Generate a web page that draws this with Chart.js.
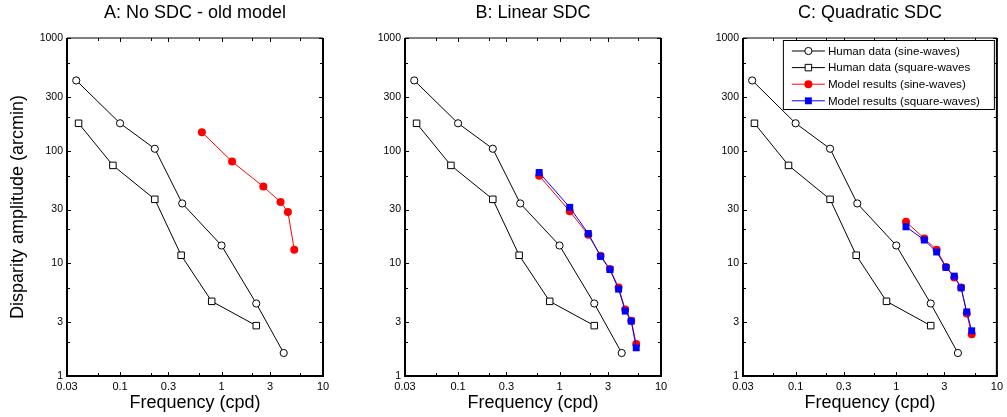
<!DOCTYPE html>
<html>
<head>
<meta charset="utf-8">
<script src="https://cdn.jsdelivr.net/npm/chart.js@4"></script>
<style>
body{margin:0;background:#fff}
canvas{position:absolute;left:0;top:0}
</style>
</head>
<body>
<canvas id="panelA" width="1007" height="417"></canvas>
<canvas id="panelB" width="1007" height="417"></canvas>
<canvas id="panelC" width="1007" height="417"></canvas>
<script>

// human thresholds, same in all panels
const humanSineFreq = [0.037, 0.10, 0.22, 0.41, 1.0, 2.2, 4.1]
const humanSineAmp = [420, 175, 104, 34, 14.4, 4.4, 1.6]
const humanSquareFreq = [0.039, 0.085, 0.22, 0.40, 0.80, 2.2]
const humanSquareAmp = [175, 74, 37, 11.8, 4.6, 2.8]

// A: old model
const modelAFreq = [0.64, 1.27, 2.58, 3.82, 4.51, 5.21]
const modelASineAmp = [146, 80, 48, 35, 28.5, 13.2]

// B: linear SDC
const modelBFreq = [0.63, 1.26, 1.92, 2.54, 3.14, 3.82, 4.44, 5.09, 5.7]
const modelBSineAmp = [60, 29, 17.9, 11.7, 8.9, 6.1, 3.9, 3.1, 1.92]
const modelBSquareAmp = [64, 31.4, 18.4, 11.5, 8.8, 5.9, 3.77, 3.07, 1.78]

// C: quadratic SDC
const modelCFreq = [1.25, 1.9, 2.52, 3.12, 3.77, 4.41, 5.02, 5.62]
const modelCSineAmp = [23.4, 16.6, 13.2, 9.3, 7.5, 6.1, 3.59, 2.35]
const modelCSquareAmp = [21.1, 16.1, 12.6, 9.2, 7.7, 6.06, 3.71, 2.52]

const xTicks = [0.03, 0.1, 0.3, 1, 3, 10]
const xMinor = [0.06, 0.2, 0.6, 2, 6]
const yTicks = [1, 3, 10, 30, 100, 300, 1000]
const yMinor = [2, 6, 20, 60, 200, 600]

const legendLabels = ["Human data (sine-waves)", "Human data (square-waves", "Model results (sine-waves)", "Model results (square-waves)"]

const FONT = "'Liberation Sans', Arial, sans-serif"

function pts(xs, ys){
  return xs.map((x,i) => ({x:x, y:ys[i]}))
}

function humanSets(){
  return [
    {data:pts(humanSineFreq,humanSineAmp), borderColor:"#000", borderWidth:1, pointStyle:"circle",
     pointRadius:3.6, pointBackgroundColor:"#fff", pointBorderColor:"#000", pointBorderWidth:1, order:4},
    {data:pts(humanSquareFreq,humanSquareAmp), borderColor:"#000", borderWidth:1, pointStyle:"rect",
     pointRadius:4.6, pointBackgroundColor:"#fff", pointBorderColor:"#000", pointBorderWidth:1, order:3}
  ]
}

function redSet(xs, ys){
  return {data:pts(xs,ys), borderColor:"#ff0000", borderWidth:1, pointStyle:"circle",
    pointRadius:4, pointBackgroundColor:"#ff0000", pointBorderColor:"#ff0000", pointBorderWidth:0, order:2}
}

function blueSet(xs, ys){
  return {data:pts(xs,ys), borderColor:"#0000ff", borderWidth:1, pointStyle:"rect",
    pointRadius:4.9, pointBackgroundColor:"#0000ff", pointBorderColor:"#0000ff", pointBorderWidth:0, order:1}
}

// box round the plot with inward ticks on all sides
const boxTicks = {
  id:"boxTicks",
  afterDraw(chart){
    const ctx = chart.ctx
    const a = chart.chartArea
    const xs = chart.scales.x, ys = chart.scales.y
    ctx.save()
    ctx.strokeStyle = "#000"
    ctx.lineWidth = 1
    ctx.beginPath()
    for(const v of xTicks.concat(xMinor)){
      const p = Math.round(xs.getPixelForValue(v)) + 0.5
      const len = xTicks.includes(v) ? 4 : 3
      ctx.moveTo(p, a.bottom); ctx.lineTo(p, a.bottom - len)
      ctx.moveTo(p, a.top); ctx.lineTo(p, a.top + len)
    }
    for(const v of yTicks.concat(yMinor)){
      const p = Math.round(ys.getPixelForValue(v)) + 0.5
      const len = yTicks.includes(v) ? 4 : 3
      ctx.moveTo(a.left, p); ctx.lineTo(a.left + len, p)
      ctx.moveTo(a.right, p); ctx.lineTo(a.right - len, p)
    }
    ctx.stroke()
    ctx.lineWidth = 1.2
    ctx.beginPath()
    ctx.moveTo(a.left, a.top); ctx.lineTo(a.right, a.top)
    ctx.stroke()
    ctx.lineWidth = 2
    ctx.beginPath()
    ctx.moveTo(a.left, a.top); ctx.lineTo(a.left, a.bottom); ctx.lineTo(a.right, a.bottom); ctx.lineTo(a.right, a.top)
    ctx.stroke()
    ctx.restore()
  }
}

// legend inside panel C, top right
const insideLegend = {
  id:"insideLegend",
  afterDraw(chart){
    if(!chart.options.plugins.insideLegend.show) return
    const ctx = chart.ctx
    const a = chart.chartArea
    const right = a.right - 3, top = a.top + 2
    const w = 211, h = 69
    const left = right - w
    ctx.save()
    ctx.fillStyle = "#fff"
    ctx.fillRect(left, top, w, h)
    ctx.strokeStyle = "#000"
    ctx.lineWidth = 1
    ctx.strokeRect(left + 0.5, top + 0.5, w, h)
    const sets = chart.data.datasets
    ctx.font = "11.6px " + FONT
    ctx.textBaseline = "middle"
    for(let i = 0; i < 4; i++){
      const y = top + 11 + i * 16.6
      const s = sets[i]
      ctx.strokeStyle = s.borderColor
      ctx.lineWidth = 1
      ctx.beginPath()
      ctx.moveTo(left + 9, y); ctx.lineTo(left + 42, y)
      ctx.stroke()
      ctx.fillStyle = s.pointBackgroundColor
      ctx.strokeStyle = s.pointBorderColor
      ctx.lineWidth = s.pointBorderWidth
      ctx.beginPath()
      if(s.pointStyle === "circle") ctx.arc(left + 25.5, y, s.pointRadius, 0, Math.PI*2)
      else { const r = s.pointRadius * Math.SQRT1_2; ctx.rect(left + 25.5 - r, y - r, 2*r, 2*r) }
      ctx.fill()
      if(s.pointBorderWidth) ctx.stroke()
      ctx.fillStyle = "#000"
      ctx.fillText(legendLabels[i], left + 45, y + 0.5)
    }
    ctx.restore()
  }
}

function makePanel(id, title, datasets, plotLeft, plotRight, showYTitle, showLegend){
  const yWidth = showYTitle ? plotLeft : 40
  new Chart(document.getElementById(id), {
    type:"line",
    data:{datasets:datasets},
    plugins:[boxTicks, insideLegend],
    options:{
      responsive:false,
      animation:false,
      devicePixelRatio:1,
      events:[],
      layout:{padding:{left:plotLeft - yWidth, right:1007 - plotRight, top:0, bottom:0}},
      plugins:{
        legend:{display:false},
        tooltip:{enabled:false},
        insideLegend:{show:showLegend},
        title:{display:true, text:title, fullSize:false, color:"#000",
          font:{family:FONT, size:18, weight:"normal", lineHeight:1}, padding:{top:4, bottom:16}}
      },
      scales:{
        x:{
          type:"logarithmic", min:0.03, max:10,
          afterBuildTicks(s){ s.ticks = xTicks.map(v => ({value:v})) },
          afterFit(s){ s.height = 41 },
          grid:{display:false, drawTicks:false}, border:{display:false},
          ticks:{color:"#000", padding:4, maxRotation:0, autoSkip:false,
            font:{family:FONT, size:11}, callback:(v) => String(v)},
          title:{display:true, text:"Frequency (cpd)", color:"#000",
            font:{family:FONT, size:18, lineHeight:1}, padding:{top:0, bottom:5}}
        },
        y:{
          type:"logarithmic", min:1, max:1000,
          afterBuildTicks(s){ s.ticks = yTicks.map(v => ({value:v})) },
          afterFit(s){ s.width = yWidth },
          grid:{display:false, drawTicks:false}, border:{display:false},
          ticks:{color:"#000", padding:4, autoSkip:false,
            font:{family:FONT, size:10.5}, callback:(v) => String(v)},
          title:{display:showYTitle, text:"Disparity amplitude (arcmin)", color:"#000",
            font:{family:FONT, size:18, lineHeight:1}, padding:{top:9, bottom:0}}
        }
      }
    }
  })
}

makePanel("panelA", "A: No SDC - old model",
  humanSets().concat([redSet(modelAFreq, modelASineAmp)]), 67, 323, true, false)

makePanel("panelB", "B: Linear SDC",
  humanSets().concat([redSet(modelBFreq, modelBSineAmp), blueSet(modelBFreq, modelBSquareAmp)]), 405, 661, false, false)

makePanel("panelC", "C: Quadratic SDC",
  humanSets().concat([redSet(modelCFreq, modelCSineAmp), blueSet(modelCFreq, modelCSquareAmp)]), 743, 999, false, true)

</script>
</body>
</html>
